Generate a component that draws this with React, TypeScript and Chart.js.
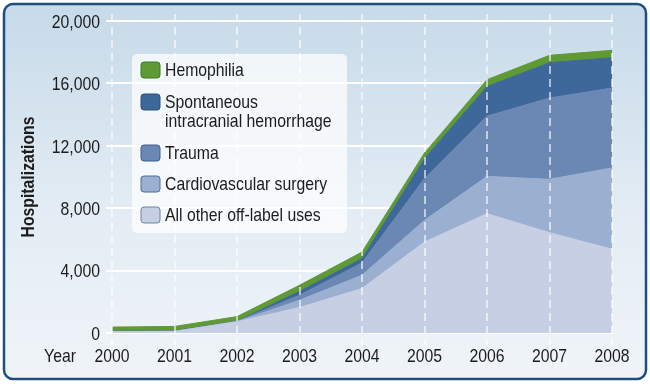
import React, { useEffect, useRef } from 'react';
import { Chart, registerables } from 'chart.js';

Chart.register(...registerables);

const years = ['2000', '2001', '2002', '2003', '2004', '2005', '2006', '2007', '2008'];

// bottom-to-top stacking order
const allOther = [80, 100, 720, 1630, 2850, 5830, 7650, 6430, 5370];
const cardio = [10, 10, 20, 470, 850, 1390, 2390, 3420, 5210];
const trauma = [10, 10, 10, 320, 790, 2680, 3860, 5210, 5120];
const spontaneous = [10, 10, 10, 250, 280, 1280, 1900, 2270, 1950];
const hemophilia = [270, 290, 290, 390, 420, 360, 440, 470, 470];

const seriesNames = [
  'All other off-label uses',
  'Cardiovascular surgery',
  'Trauma',
  'Spontaneous\nintracranial hemorrhage',
  'Hemophilia',
];
const seriesColors = ['#c6cfe3', '#9bafd0', '#6b88b4', '#3d6899', '#5f9a35'];
const swatchBorders = ['#6d84aa', '#4d6d9a', '#3c5f8e', '#2a5282', '#3f7a25'];

const yTicks = [0, 4000, 8000, 12000, 16000, 20000];
const yTitle = 'Hospitalizations';
const xTitle = 'Year';

const FONT = "'Liberation Sans', Arial, sans-serif";
const TEXT = '#1c1c1c';
const SQUEEZE = 0.83;

function narrowText(ctx: any, text: string, x: number, y: number, align: string, font: string) {
  ctx.save();
  ctx.translate(x, y);
  ctx.scale(SQUEEZE, 1);
  ctx.font = font;
  ctx.fillStyle = TEXT;
  ctx.textAlign = align;
  ctx.textBaseline = 'middle';
  ctx.fillText(text, 0, 0);
  ctx.restore();
}

function roundRect(ctx: any, x: number, y: number, w: number, h: number, r: number) {
  ctx.beginPath();
  ctx.moveTo(x + r, y);
  ctx.arcTo(x + w, y, x + w, y + h, r);
  ctx.arcTo(x + w, y + h, x, y + h, r);
  ctx.arcTo(x, y + h, x, y, r);
  ctx.arcTo(x, y, x + w, y, r);
  ctx.closePath();
}

const decorPlugin = {
  id: 'decor',
  beforeDraw(chart: any) {
    const ctx = chart.ctx;
    ctx.save();
    ctx.fillStyle = '#ffffff';
    ctx.fillRect(0, 0, chart.width, chart.height);
    const g = ctx.createLinearGradient(0, 4, 0, 379);
    g.addColorStop(0, '#c6dae9');
    g.addColorStop(0.55, '#e3ecf4');
    g.addColorStop(1, '#f0f4f9');
    roundRect(ctx, 4, 4, 642, 375, 9);
    ctx.fillStyle = g;
    ctx.fill();
    ctx.lineWidth = 2.5;
    ctx.strokeStyle = '#1f4f80';
    ctx.stroke();
    ctx.restore();
  },
  afterDatasetsDraw(chart: any) {
    const ctx = chart.ctx;
    const xs = chart.scales.x;
    const area = chart.chartArea;
    ctx.save();
    ctx.strokeStyle = 'rgba(255,255,255,0.6)';
    ctx.lineWidth = 2;
    ctx.setLineDash([8, 5]);
    years.forEach((_, i) => {
      const x = Math.round(xs.getPixelForValue(i));
      ctx.beginPath();
      ctx.moveTo(x, area.top - 7);
      ctx.lineTo(x, area.bottom + 12);
      ctx.stroke();
    });
    ctx.restore();
  },
  afterDraw(chart: any) {
    const ctx = chart.ctx;
    const area = chart.chartArea;
    const xs = chart.scales.x;
    const ys = chart.scales.y;
    const f19 = `19px ${FONT}`;

    // y tick labels
    ys.ticks.forEach((t: any) => {
      const y = ys.getPixelForValue(t.value);
      narrowText(ctx, Number(t.value).toLocaleString('en-US'), 100, y + 1.5, 'right', f19);
    });
    // x tick labels
    xs.getLabels().forEach((lab: string, i: number) => {
      narrowText(ctx, lab, xs.getPixelForValue(i), area.bottom + 24, 'center', f19);
    });
    narrowText(ctx, xTitle, 60, area.bottom + 24, 'center', f19);

    // y title
    ctx.save();
    ctx.translate(29, (area.top + area.bottom) / 2);
    ctx.rotate(-Math.PI / 2);
    ctx.scale(SQUEEZE, 1);
    ctx.font = `bold 19px ${FONT}`;
    ctx.fillStyle = TEXT;
    ctx.textAlign = 'center';
    ctx.textBaseline = 'middle';
    ctx.fillText(yTitle, 0, 0);
    ctx.restore();

    // legend box
    ctx.save();
    roundRect(ctx, 132, 54, 215, 179, 5);
    ctx.fillStyle = 'rgba(255,255,255,0.72)';
    ctx.fill();
    const ds = chart.data.datasets;
    const rows = [70, 102, 153, 184, 215];
    const order = [4, 3, 2, 1, 0];
    order.forEach((di, k) => {
      const d = ds[di];
      const cy = rows[k];
      roundRect(ctx, 141, cy - 8, 19, 16, 3);
      ctx.fillStyle = d.backgroundColor;
      ctx.fill();
      ctx.lineWidth = 1;
      ctx.strokeStyle = swatchBorders[di];
      ctx.stroke();
      const lines = String(d.label).split('\n');
      lines.forEach((ln, j) => narrowText(ctx, ln, 165, cy + 1 + j * 19, 'left', f19));
    });
    ctx.restore();
  },
};

export default function App() {
  const ref = useRef<HTMLCanvasElement | null>(null);
  useEffect(() => {
    document.body.style.margin = '0';
    const canvas = ref.current;
    if (!canvas) return;
    const values = [allOther, cardio, trauma, spontaneous, hemophilia];
    const chart = new Chart(canvas, {
      type: 'line',
      data: {
        labels: years,
        datasets: values.map((v, i) => ({
          label: seriesNames[i],
          data: v,
          backgroundColor: seriesColors[i],
          borderColor: seriesColors[i],
          borderWidth: 1,
          pointRadius: 0,
          tension: 0,
          fill: i === 0 ? 'origin' : '-1',
        })),
      },
      options: {
        animation: false,
        responsive: false,
        devicePixelRatio: 1,
        layout: { padding: { top: 21, right: 38, bottom: 0, left: 0 } },
        plugins: { legend: { display: false }, tooltip: { enabled: false } },
        scales: {
          x: {
            offset: false,
            grid: { display: false, drawTicks: false },
            border: { display: false },
            ticks: { display: false, autoSkip: false },
            afterFit: (s: any) => { s.height = 51; },
          },
          y: {
            stacked: true,
            min: 0,
            max: 20000,
            z: 1,
            afterBuildTicks: (s: any) => { s.ticks = yTicks.map((v) => ({ value: v })); },
            ticks: { display: false },
            grid: { color: '#ffffff', lineWidth: 2, tickLength: 6, drawTicks: true },
            border: { display: false },
            afterFit: (s: any) => { s.width = 112; },
          },
        },
      },
      plugins: [decorPlugin],
    });
    return () => chart.destroy();
  }, []);
  return <canvas ref={ref} width={650} height={384} style={{ display: 'block' }} />;
}
